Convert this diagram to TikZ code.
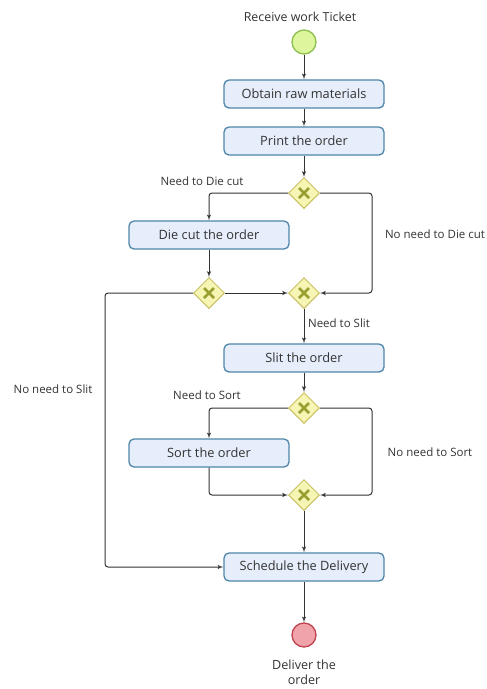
\documentclass[tikz,border=0pt]{standalone}
\usepackage{fontspec}
\setmainfont{Open Sans}
\usepackage{tikz}
\usetikzlibrary{arrows,shapes.geometric}

\definecolor{taskfill}{HTML}{E6EEFB}
\definecolor{taskline}{HTML}{4F86A8}
\definecolor{gatefill}{HTML}{F7F5B4}
\definecolor{gateline}{HTML}{C9C165}
\definecolor{gatecross}{HTML}{98A032}
\definecolor{startfill}{HTML}{DDF59C}
\definecolor{startline}{HTML}{8DC04E}
\definecolor{endfill}{HTML}{F0A3AA}
\definecolor{endline}{HTML}{C0434E}
\definecolor{txt}{HTML}{333333}

\begin{document}
\begin{tikzpicture}[x=1pt,y=-1pt]
	
	\tikzset{task/.style = {shape=rectangle,rounded corners=5pt,draw=taskline,line width=1.3pt,fill=taskfill,minimum width=160pt,minimum height=28pt,text=txt,font=\fontsize{12.8}{15}\selectfont}}
	\tikzset{gate/.style = {shape=diamond,draw=gateline,line width=1pt,fill=gatefill,minimum size=31pt,inner sep=0pt,
		path picture={\draw[gatecross,line width=2.6pt] ([shift={(-5pt,-5pt)}]path picture bounding box.center) -- ([shift={(5pt,5pt)}]path picture bounding box.center);
			\draw[gatecross,line width=2.6pt] ([shift={(-5pt,5pt)}]path picture bounding box.center) -- ([shift={(5pt,-5pt)}]path picture bounding box.center);}}}
	\tikzset{event/.style = {shape=circle,line width=1.3pt,minimum size=24pt,inner sep=0pt}}
	\tikzset{lbl/.style = {text=txt,font=\fontsize{11.5}{13}\selectfont}}
	\tikzset{edge/.style = {->,> = latex',draw=black!80,line width=1pt,rounded corners=3pt}}
	
	\useasboundingbox (0,0) rectangle (487,689);
	
	\node[event,draw=startline,fill=startfill] (start) at (304,42) {};
	\node[lbl,font=\fontsize{12.4}{14}\selectfont] (startlbl) at (300,17) {Receive work Ticket};
	
	\node[task] (obtain) at (304,94) {Obtain raw materials};
	\node[task] (print) at (304,141) {Print the order};
	\node[gate] (g1) at (304,193) {};
	\node[task] (diecut) at (209,235) {Die cut the order};
	\node[gate] (g2) at (209,293) {};
	\node[gate] (g3) at (304,293) {};
	\node[task] (slit) at (304,358) {Slit the order};
	\node[gate] (g4) at (304,408) {};
	\node[task] (sort) at (209,453) {Sort the order};
	\node[gate] (g5) at (304,495) {};
	\node[task] (sched) at (304,567) {Schedule the Delivery};
	\node[event,draw=endline,fill=endfill] (stop) at (304,635) {};
	\node[lbl,font=\fontsize{12.6}{15}\selectfont,align=center] (stoplbl) at (304,672) {Deliver the\\order};
	
	\node[lbl] (l1) at (202,181) {Need to Die cut};
	\node[lbl] (l2) at (435,234) {No need to Die cut};
	\node[lbl] (l3) at (339,323) {Need to Slit};
	\node[lbl] (l4) at (53,389) {No need to Slit};
	\node[lbl] (l5) at (207,395) {Need to Sort};
	\node[lbl] (l6) at (430,452) {No need to Sort};
	
	\draw[edge] (start) to (obtain);
	\draw[edge] (obtain) to (print);
	\draw[edge] (print) to (g1);
	\draw[edge] (g1.west) -| (diecut.north);
	\draw[edge] (g1.east) -- ++(52,0) |- (g3.east);
	\draw[edge] (diecut) to (g2);
	\draw[edge] (g2.east) to (g3.west);
	\draw[edge] (g2.west) -- ++(-88,0) |- (sched.west);
	\draw[edge] (g3) to (slit);
	\draw[edge] (slit) to (g4);
	\draw[edge] (g4.west) -| (sort.north);
	\draw[edge] (g4.east) -- ++(52,0) |- (g5.east);
	\draw[edge] (sort.south) |- (g5.west);
	\draw[edge] (g5) to (sched);
	\draw[edge] (sched) to (stop);
	\end{tikzpicture}
\end{document}
